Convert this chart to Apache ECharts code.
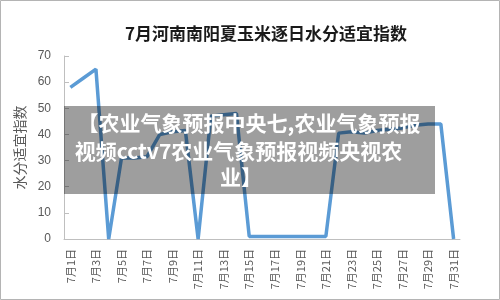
<!DOCTYPE html>
<html>
<head>
<meta charset="utf-8">
<script src="https://cdn.jsdelivr.net/npm/echarts@6/dist/echarts.min.js"></script>
<style>
html,body{margin:0;padding:0;background:#fff;}
#chart{width:500px;height:300px;}
</style>
</head>
<body>
<div id="chart"></div>
<script>
var titleText = '7月河南南阳夏玉米逐日水分适宜指数';
var yAxisName = '水分适宜指数';
var categories = [];
for (var d = 1; d <= 31; d++) { categories.push('7月' + d + '日'); }
var values = [58, 61.5, 65, 0, 31, 31, 31.5, 40, 41, 41.5, 0, 47, 47.5, 48, 1, 1, 1, 1, 1, 1, 1, 40.5, 41, 40.5, 41.5, 42, 42.5, 43.5, 44, 44, 0];
var overlayLines = ['【农业气象预报中央七,农业气象预报', '视频cctv7农业气象预报视频央视农', '业】'];

var chart = echarts.init(document.getElementById('chart'), null, {renderer: 'canvas'});
var fontCJK = '"Noto Sans CJK SC", "Noto Sans", sans-serif';
chart.setOption({
  animation: false,
  backgroundColor: '#fff',
  title: {
    text: titleText,
    left: 261, top: 20, textAlign: 'center',
    textStyle: {fontSize: 17, fontWeight: 'bold', color: '#1a1a1a', fontFamily: fontCJK}
  },
  grid: {left: 64, right: 40, top: 56, bottom: 61},
  xAxis: {
    type: 'category',
    data: categories,
    boundaryGap: true,
    axisLine: {lineStyle: {color: '#bfbfbf'}},
    axisTick: {inside: true, length: 4, interval: 1, lineStyle: {color: '#bfbfbf'}},
    axisLabel: {interval: 1, rotate: 90, margin: 10, fontSize: 11, color: '#595959', fontFamily: fontCJK}
  },
  yAxis: {
    type: 'value',
    min: 0, max: 70, interval: 10,
    name: yAxisName,
    nameLocation: 'middle',
    nameGap: 37,
    nameTextStyle: {fontSize: 14, color: '#595959', fontFamily: fontCJK},
    splitLine: {show: false},
    axisLine: {show: true, lineStyle: {color: '#bfbfbf'}},
    axisTick: {show: true, inside: true, length: 5, lineStyle: {color: '#bfbfbf'}},
    axisLabel: {margin: 13, fontSize: 12, color: '#595959', fontFamily: '"Liberation Sans", Arial, sans-serif'}
  },
  series: [{
    type: 'line',
    data: values,
    showSymbol: false,
    symbol: 'none',
    lineStyle: {color: '#5b9bd5', width: 3.5},
    itemStyle: {color: '#5b9bd5'}
  }],
  graphic: [
    {type: 'rect', z: 100, shape: {x: 0.5, y: 0.5, width: 499, height: 299}, style: {fill: 'none', stroke: '#b4b4b4', lineWidth: 1}},
    {type: 'rect', z: 100, shape: {x: 64, y: 106, width: 371, height: 88}, style: {fill: 'rgba(0,0,0,0.38)'}},
    {type: 'text', z: 101, x: 249, y: 123, style: {text: overlayLines[0], fill: '#fff', fontSize: 21, fontWeight: 'bold', fontFamily: fontCJK, textAlign: 'center', textVerticalAlign: 'middle'}},
    {type: 'text', z: 101, x: 238.5, y: 151, style: {text: overlayLines[1], fill: '#fff', fontSize: 21, fontWeight: 'bold', fontFamily: fontCJK, textAlign: 'center', textVerticalAlign: 'middle'}},
    {type: 'text', z: 101, x: 241, y: 177, style: {text: overlayLines[2], fill: '#fff', fontSize: 21, fontWeight: 'bold', fontFamily: fontCJK, textAlign: 'center', textVerticalAlign: 'middle'}}
  ]
});
</script>
</body>
</html>
